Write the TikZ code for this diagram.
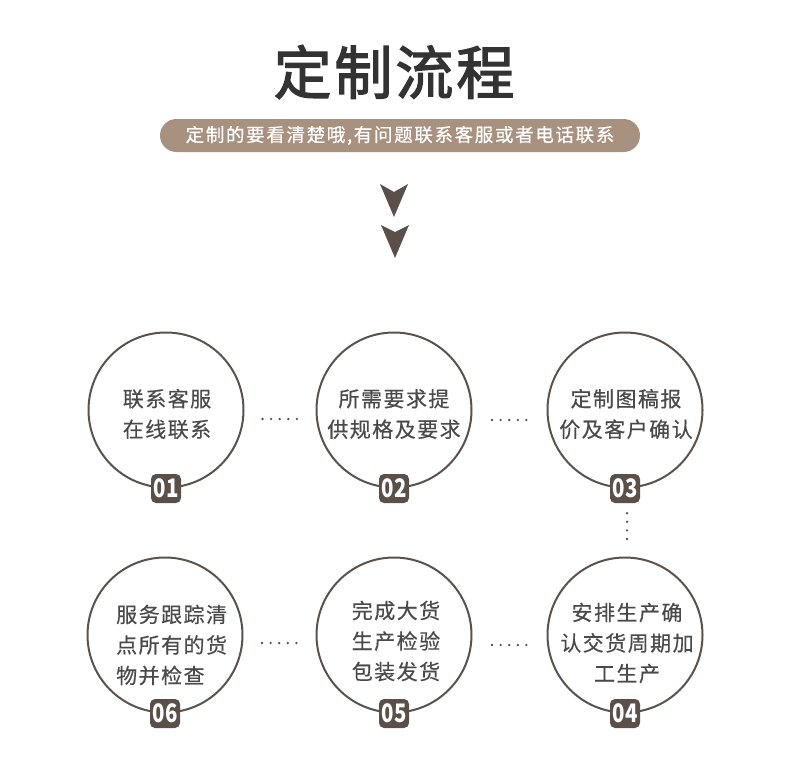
\documentclass[tikz,border=0pt]{standalone}
\usepackage{fontspec}
\usetikzlibrary{shapes.misc}
\newfontfamily\cjk{Noto Sans CJK SC}
\newfontfamily\cjkls[LetterSpace=7,FakeBold=0.4]{Noto Sans CJK SC}
\newfontfamily\cjkban[LetterSpace=9,FakeBold=0.6]{Noto Sans CJK SC}
\newfontfamily\cjktitle[LetterSpace=5,FakeBold=2.2]{Noto Sans CJK SC}
\definecolor{titlecol}{HTML}{333333}
\definecolor{bancol}{HTML}{A8917F}
\definecolor{darkcol}{HTML}{5B5049}
\definecolor{circcol}{HTML}{5B524C}
\definecolor{textcol}{HTML}{4A4A4A}
\newcommand{\badgenum}[1]{\scalebox{0.8}[1]{#1}}
\tikzset{
  titletext/.style={text=titlecol, inner sep=0pt, font=\cjktitle\fontsize{58}{60}\selectfont},
  banner/.style={rounded rectangle, fill=bancol, text=white, minimum width=480pt, minimum height=33pt, inner sep=0pt, font=\cjkban\fontsize{18.5}{20}\selectfont},
  arrowmark/.style={fill=darkcol},
  stepcircle/.style={circle, draw=circcol, line width=2pt, minimum size=155pt, inner sep=0pt},
  steptext/.style={text=textcol, inner sep=0pt, font=\cjkls\fontsize{21}{30.5}\selectfont},
  badge/.style={rectangle, rounded corners=5pt, fill=darkcol, text=white, minimum width=30pt, minimum height=29pt, inner sep=0pt, font=\cjk\bfseries\fontsize{25.5}{25.5}\selectfont},
  dotline/.style={draw=darkcol, line width=2.6pt, line cap=round, dash pattern=on 0pt off 8.6pt},
}
\begin{document}
\begin{tikzpicture}[x=1pt,y=-1pt]
\useasboundingbox (0,0) rectangle (790,779);
\fill[white] (0,0) rectangle (790,779);

\node[titletext] (title) at (394,72) {定制流程};
\node[banner] (ban) at (400,135.5) {定制的要看清楚哦,有问题联系客服或者电话联系};

\fill[arrowmark] (380,184) -- (394,192) -- (408,184) -- (394,217) -- cycle;
\fill[arrowmark] (381,225) -- (395,232) -- (409,225) -- (395,258) -- cycle;

% circles
\node[stepcircle] (c1) at (166,410) {};
\node[stepcircle] (c2) at (394,410) {};
\node[stepcircle] (c3) at (625,410) {};
\node[stepcircle] (c4) at (625,635) {};
\node[stepcircle] (c5) at (394,635) {};
\node[stepcircle] (c6) at (165,635) {};

% texts
\node[steptext, align=center] (t1) at (167,414) {联系客服\\在线联系};
\node[steptext, align=center] (t2) at (394,414) {所需要求提\\供规格及要求};
\node[steptext, align=center] (t3) at (626,414) {定制图稿报\\价及客户确认};
\node[steptext, align=center] (t4) at (627,643) {安排生产确\\认交货周期加\\工生产};
\node[steptext, align=center] (t5) at (396,641) {完成大货\\生产检验\\包装发货};
\node[steptext, align=left, anchor=west] (t6) at (116,645) {服务跟踪清\\点所有的货\\物并检查};

% badges
\node[badge] (b1) at (c1.south) {\badgenum{01}};
\node[badge] (b2) at (c2.south) {\badgenum{02}};
\node[badge] (b3) at (c3.south) {\badgenum{03}};
\node[badge] (b4) at (c4.south) {\badgenum{04}};
\node[badge] (b5) at (c5.south) {\badgenum{05}};
\node[badge] (b6) at (c6.south) {\badgenum{06}};

% dotted connectors
\draw[dotline, shorten <=18pt, shorten >=18pt] ([yshift=-9pt]c1.east) -- ([yshift=-9pt]c2.west);
\draw[dotline, shorten <=19.5pt, shorten >=19.5pt] ([yshift=-10pt]c2.east) -- ([yshift=-10pt]c3.west);
\draw[dotline, shorten <=10pt, shorten >=11pt] ([xshift=2pt]b3.south) -- ([xshift=2pt]c4.north);
\draw[dotline, shorten <=18.5pt, shorten >=18.5pt] ([yshift=-8pt]c6.east) -- ([yshift=-8pt]c5.west);
\draw[dotline, shorten <=19.5pt, shorten >=19.5pt] ([yshift=-10pt]c5.east) -- ([yshift=-10pt]c4.west);
\end{tikzpicture}
\end{document}
